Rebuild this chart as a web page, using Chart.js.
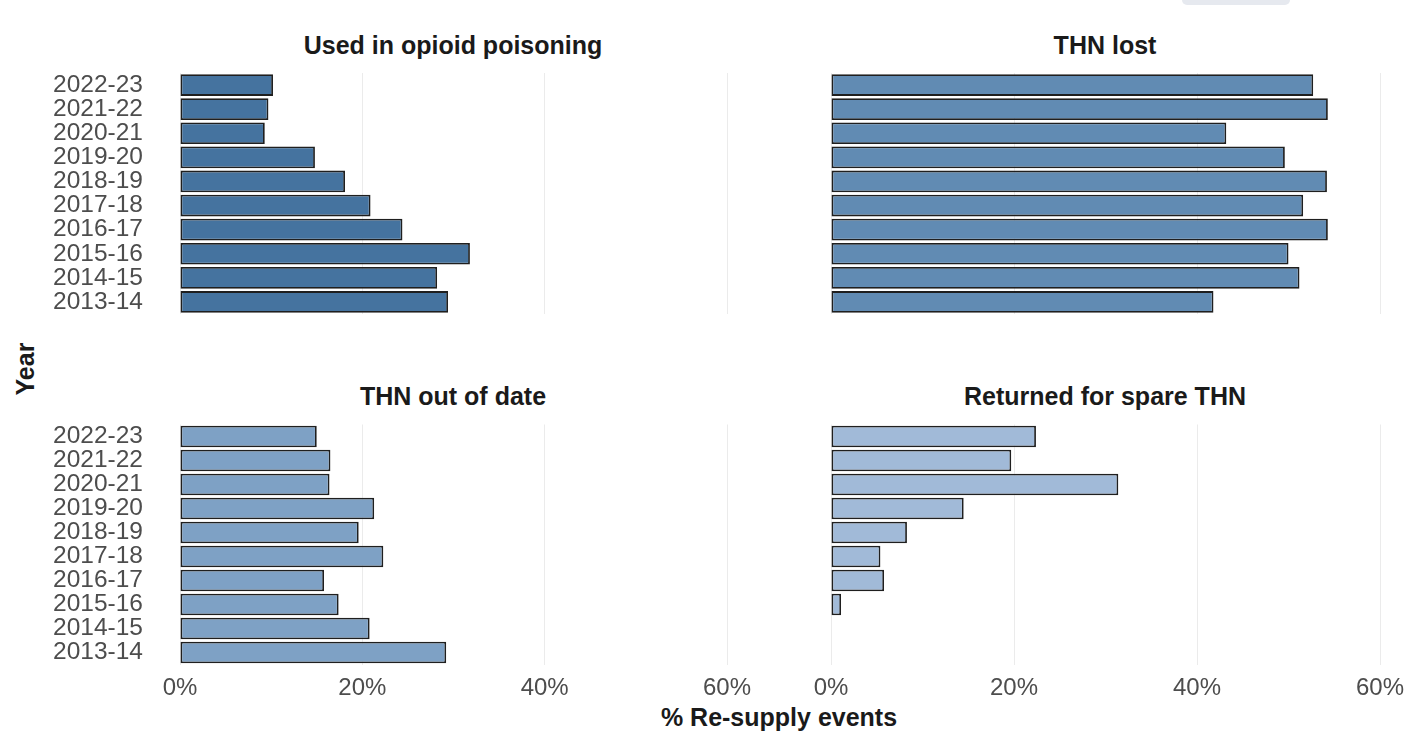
<!DOCTYPE html>
<html>
<head>
<meta charset="utf-8">
<script src="https://cdn.jsdelivr.net/npm/chart.js@4.4.0/dist/chart.umd.min.js"></script>
<style>
  body { margin: 0; background: #fff; font-family: "Liberation Sans", Arial, sans-serif; }
  #page { position: relative; width: 1407px; height: 734px; overflow: hidden; }
  .panel { position: absolute; }
  .title { position: absolute; font-weight: bold; font-size: 25px; line-height: 24px; color: #1a1a1a; white-space: nowrap; transform: translateX(-50%); }
  .tab { position: absolute; left: 1182px; top: 0; width: 108px; height: 5px; background: #e6e9ef; border-radius: 0 0 6px 6px; }
</style>
</head>
<body>
<div id="page">
  <div class="tab"></div>

  <div class="title" style="left:453px; top:33px;">Used in opioid poisoning</div>
  <div class="title" style="left:1105px; top:33px;">THN lost</div>
  <div class="title" style="left:453px; top:384px;">THN out of date</div>
  <div class="title" style="left:1105px; top:384px;">Returned for spare THN</div>

  <div class="title" style="left:25px; top:357px; transform: translateX(-50%) rotate(-90deg);">Year</div>
  <div class="title" style="left:779px; top:705px;">% Re-supply events</div>

  <div class="panel" style="left:0; top:60px; width:770px; height:270px;"><canvas id="c1"></canvas></div>
  <div class="panel" style="left:790px; top:60px; width:617px; height:270px;"><canvas id="c2"></canvas></div>
  <div class="panel" style="left:0; top:410px; width:770px; height:324px;"><canvas id="c3"></canvas></div>
  <div class="panel" style="left:790px; top:410px; width:617px; height:324px;"><canvas id="c4"></canvas></div>
</div>

<script>
// years, top to bottom as shown
const years = ["2022-23", "2021-22", "2020-21", "2019-20", "2018-19", "2017-18", "2016-17", "2015-16", "2014-15", "2013-14"];

// % of re-supply events per reason
const usedInPoisoning = [10.2, 9.7, 9.3, 14.8, 18.1, 20.9, 24.4, 31.8, 28.2, 29.4];
const thnLost = [52.7, 54.3, 43.2, 49.6, 54.2, 51.6, 54.3, 50.0, 51.2, 41.8];
const thnOutOfDate = [15.0, 16.5, 16.4, 21.3, 19.6, 22.3, 15.8, 17.4, 20.8, 29.2];
const returnedForSpare = [22.4, 19.7, 31.4, 14.5, 8.3, 5.4, 5.8, 1.1, null, null];

const xTicks = [0, 20, 40, 60];

const FONT = "'Liberation Sans', Arial, sans-serif";

Chart.defaults.font.family = FONT;
Chart.defaults.animation = false;

function makePanel(id, values, color, opts) {
  const ctx = document.getElementById(id).getContext("2d");
  return new Chart(ctx, {
    type: "bar",
    data: {
      labels: years,
      datasets: [
        {
          data: values,
          backgroundColor: color,
          borderColor: "#1f1f1f",
          borderWidth: 1.8,
          borderSkipped: false,
          barPercentage: 0.9,
          categoryPercentage: 1.0,
        },
      ],
    },
    options: {
      indexAxis: "y",
      responsive: true,
      maintainAspectRatio: false,
      layout: { padding: opts.padding },
      plugins: { legend: { display: false }, tooltip: { enabled: false } },
      scales: {
        x: {
          min: 0,
          max: 60,
          afterBuildTicks: (s) => { s.ticks = xTicks.map((v) => ({ value: v })); },
          grid: { color: "#ebebeb", lineWidth: 1, drawTicks: false },
          border: { display: false },
          ticks: {
            display: opts.showX,
            padding: 9,
            color: "#4d4d4d",
            font: { size: 24 },
            callback: (v) => v + "%",
          },
          afterFit: (s) => {
            s.height = opts.xHeight;
            s.paddingLeft = 0;
            s.paddingRight = 0;
          },
        },
        y: {
          grid: { display: false },
          border: { display: false },
          ticks: {
            display: opts.showY,
            autoSkip: false,
            padding: 29,
            color: "#4d4d4d",
            font: { size: 24.5 },
          },
          afterFit: (s) => {
            s.width = opts.yWidth;
            // keep the label gap from pushing the plot area in
            s.paddingTop = 0;
            s.paddingBottom = 0;
          },
        },
      },
    },
  });
}

// top row
makePanel("c1", usedInPoisoning, "#45739f", {
  padding: { left: 0, right: 43, top: 13, bottom: 16 },
  showX: false, showY: true, xHeight: 0, yWidth: 180,
});
makePanel("c2", thnLost, "#618bb3", {
  padding: { left: 0, right: 27, top: 13, bottom: 16 },
  showX: false, showY: false, xHeight: 0, yWidth: 41,
});

// bottom row
makePanel("c3", thnOutOfDate, "#7ea1c5", {
  padding: { left: 0, right: 43, top: 14.5, bottom: 19.5 },
  showX: true, showY: true, xHeight: 50, yWidth: 180,
});
makePanel("c4", returnedForSpare, "#a1bad8", {
  padding: { left: 0, right: 27, top: 14.5, bottom: 19.5 },
  showX: true, showY: false, xHeight: 50, yWidth: 41,
});
</script>
</body>
</html>
